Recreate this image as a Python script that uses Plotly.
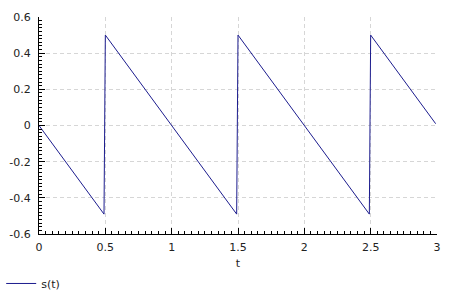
import plotly.graph_objects as go

# sawtooth vertices
t_vals = [0, 0.49, 0.5, 1.49, 1.5, 2.49, 2.5, 2.99]
s_vals = [0, -0.49, 0.5, -0.49, 0.5, -0.49, 0.5, 0.01]

x_ticks = [0, 0.5, 1, 1.5, 2, 2.5, 3]
x_tick_labels = ["0", "0.5", "1", "1.5", "2", "2.5", "3"]
y_ticks = [-0.6, -0.4, -0.2, 0, 0.2, 0.4, 0.6]
y_tick_labels = ["-0.6", "-0.4", "-0.2", "0", "0.2", "0.4", "0.6"]

line_color = "#1c1c8e"
font = dict(family="DejaVu Sans", size=11, color="#222222")

fig = go.Figure()
fig.add_trace(go.Scatter(x=t_vals, y=s_vals, mode="lines", name="s(t)",
                         line=dict(color=line_color, width=1)))

axis_common = dict(
    showline=True, linecolor="black", linewidth=1,
    ticks="inside", ticklen=6, tickcolor="black", tickwidth=1,
    showgrid=True, gridcolor="#d6d6d6", gridwidth=1, griddash="4px,3px",
    zeroline=False, tickfont=font, automargin=False,
)

fig.update_layout(
    width=450, height=300,
    margin=dict(l=39, r=13, t=17, b=66, autoexpand=False),
    paper_bgcolor="white", plot_bgcolor="white",
    font=font,
    showlegend=True,
    legend=dict(orientation="h", x=-0.095, xanchor="left", y=-0.228, yanchor="middle",
                font=dict(family="DejaVu Sans", size=11, color="#222222"),
                bgcolor="rgba(0,0,0,0)"),
    xaxis=dict(range=[0, 3], tickvals=x_ticks, ticktext=x_tick_labels,
               minor=dict(dtick=0.05, ticks="inside", ticklen=3, tickcolor="black"),
               ticklabelstandoff=3,
               title=dict(text="t", font=font, standoff=6),
               **axis_common),
    yaxis=dict(range=[-0.6, 0.6], tickvals=y_ticks, ticktext=y_tick_labels,
               minor=dict(dtick=0.02, ticks="inside", ticklen=3, tickcolor="black"),
               ticklabelstandoff=5,
               **axis_common),
)

fig.write_html("out.html")
